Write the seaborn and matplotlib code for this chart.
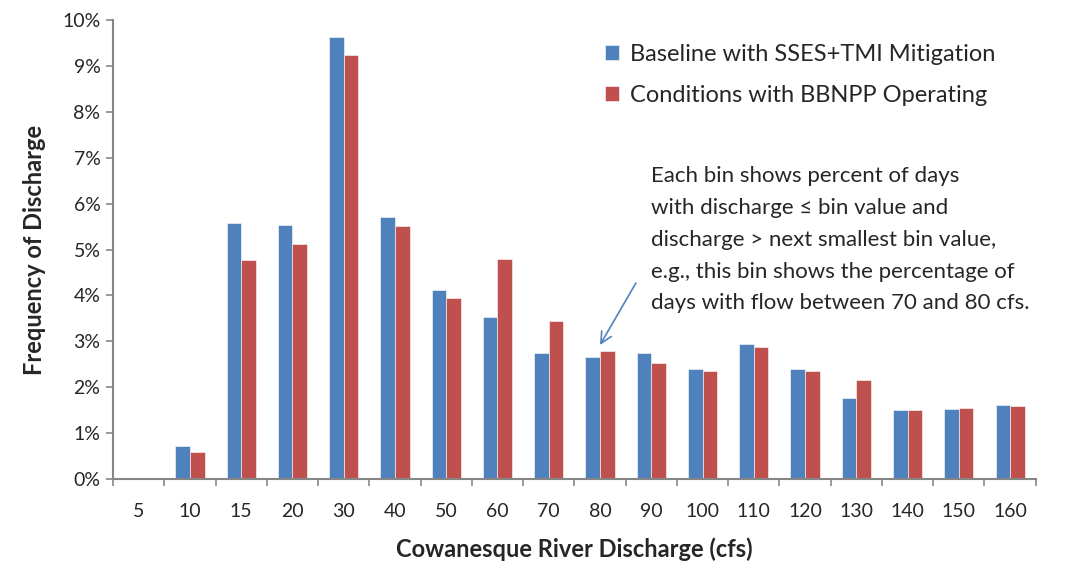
import matplotlib
matplotlib.use("Agg")
import matplotlib.pyplot as plt
from matplotlib.ticker import PercentFormatter, FixedLocator
import pandas as pd
import seaborn as sns

# discharge bins (cfs)
bins = ["5", "10", "15", "20", "30", "40", "50", "60", "70", "80",
        "90", "100", "110", "120", "130", "140", "150", "160"]

# percent of days in each bin
baseline = [0.03, 0.72, 5.57, 5.53, 9.62, 5.70, 4.12, 3.52, 2.75, 2.66,
            2.74, 2.40, 2.94, 2.40, 1.76, 1.50, 1.53, 1.61]
bbnpp = [0.0, 0.59, 4.77, 5.13, 9.24, 5.51, 3.95, 4.79, 3.44, 2.79,
         2.53, 2.35, 2.87, 2.35, 2.15, 1.50, 1.55, 1.59]

series_names = ["Baseline with SSES+TMI Mitigation",
                "Conditions with BBNPP Operating"]
colors = ["#4F81BD", "#C0504D"]

df = pd.DataFrame({
    "bin": bins * 2,
    "freq": baseline + bbnpp,
    "series": [series_names[0]] * len(bins) + [series_names[1]] * len(bins),
})

sns.set_style("white")
plt.rcParams["font.family"] = ["Lato", "DejaVu Sans"]

fig = plt.figure(figsize=(10.68, 5.68), dpi=100)
ax = fig.add_axes([0.1058, 0.1567, 0.864, 0.808])

sns.barplot(data=df, x="bin", y="freq", hue="series", order=bins,
            hue_order=series_names, palette=colors, width=0.57,
            saturation=1, edgecolor="white", linewidth=0.4, ax=ax)

ax.set_ylim(0, 10)
ax.set_xlim(-0.5, len(bins) - 0.5)
ax.set_yticks(range(0, 11))
ax.yaxis.set_major_formatter(PercentFormatter(decimals=0))
ax.tick_params(axis="y", direction="out", length=5, width=1.2,
               color="#868686", labelsize=14, left=True, pad=4)

# category boundaries as ticks, labels at centres
ax.xaxis.set_major_locator(FixedLocator([i - 0.5 for i in range(len(bins) + 1)]))
ax.xaxis.set_minor_locator(FixedLocator(list(range(len(bins)))))
ax.set_xticklabels([], minor=False)
ax.set_xticklabels(bins, minor=True)
ax.tick_params(axis="x", which="major", direction="out", length=5, width=1.2,
               color="#868686", bottom=True)
ax.tick_params(axis="x", which="minor", length=0, labelsize=14, pad=17)

for side in ["top", "right"]:
    ax.spines[side].set_visible(False)
for side in ["left", "bottom"]:
    ax.spines[side].set_color("#868686")
    ax.spines[side].set_linewidth(1.5)

ax.set_xlabel("Cowanesque River Discharge (cfs)", fontsize=17,
              fontweight="bold", labelpad=13)
ax.set_ylabel("Frequency of Discharge", fontsize=17, fontweight="bold",
              labelpad=12)

ax.legend(loc="upper left", bbox_to_anchor=(0.51, 0.995), frameon=False,
          fontsize=17, handlelength=0.6, handleheight=0.6, handletextpad=0.45,
          labelspacing=0.85)

note = ("Each bin shows percent of days\n"
        "with discharge \u2264 bin value and\n"
        "discharge > next smallest bin value,\n"
        "e.g., this bin shows the percentage of\n"
        "days with flow between 70 and 80 cfs.")
ax.text(10.0, 6.82, note, fontsize=16, ha="left", va="top", linespacing=1.74)
ax.annotate("", xy=(9.0, 2.92), xytext=(9.7, 4.27),
            arrowprops=dict(arrowstyle="->", color="#4F81BD", lw=1.2,
                            shrinkA=0, shrinkB=0, mutation_scale=20))

fig.savefig("out.png", dpi=100)
